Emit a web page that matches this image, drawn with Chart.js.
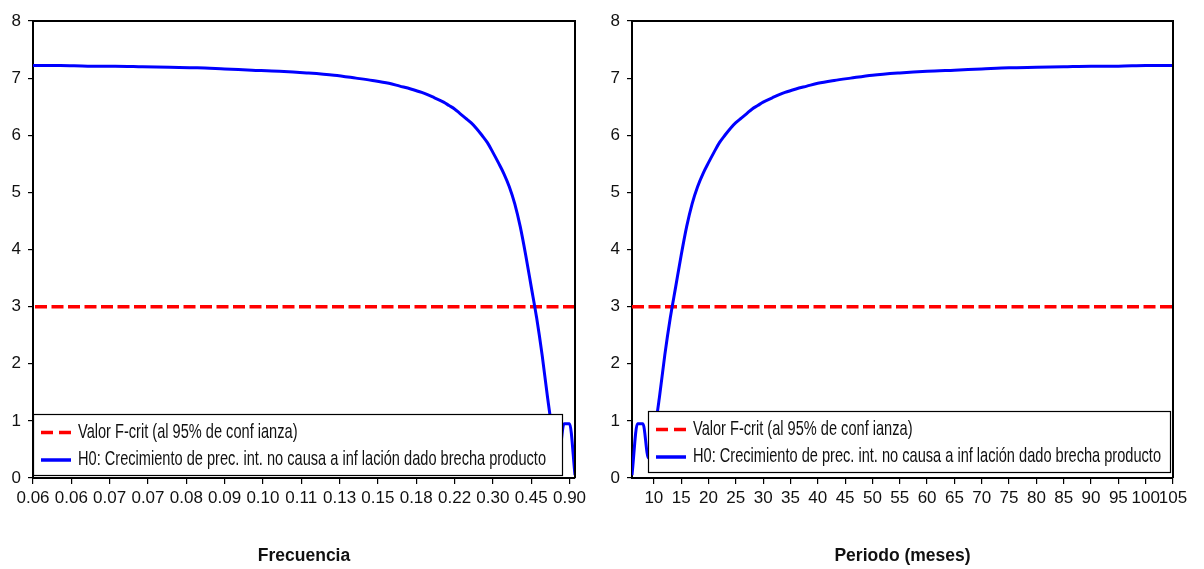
<!DOCTYPE html>
<html>
<head>
<meta charset="utf-8">
<script src="https://cdn.jsdelivr.net/npm/chart.js@4/dist/chart.umd.min.js"></script>
<style>
  html, body { margin: 0; padding: 0; background: #fff; }
  #wrap { position: relative; width: 1204px; height: 569px; overflow: hidden; }
  canvas { position: absolute; top: 0; }
  #left { left: 0; }
  #right { left: 600px; }
</style>
</head>
<body>
<div id="wrap">
  <canvas id="left" width="600" height="569"></canvas>
  <canvas id="right" width="604" height="569"></canvas>
</div>
<script>
// F statistic by period (months)
const periods = [6, 7, 8, 9, 10, 11, 12, 13, 14, 15, 16, 17, 18, 19, 20, 21, 22, 23, 24, 25,
  26, 27, 28, 29, 30, 32, 34, 36, 38, 40, 43, 46, 50, 55, 60, 65, 70, 75, 80, 85, 90, 95, 100, 105];
const fStat = [0.05, 0.95, 0.95, 0.35, 0.75, 1.4, 2.15, 2.8, 3.35, 3.9, 4.4, 4.8, 5.1, 5.33, 5.52, 5.7, 5.87, 6.0, 6.12, 6.22,
  6.3, 6.38, 6.46, 6.52, 6.58, 6.67, 6.75, 6.81, 6.86, 6.91, 6.96, 7.0, 7.05, 7.09, 7.12, 7.14, 7.16, 7.18, 7.19, 7.2, 7.21, 7.21, 7.22, 7.22];

// critical value line
const critPeriods = [6, 105];
const critValues = [3, 3];

// tick labels
const periodTicks = [10, 15, 20, 25, 30, 35, 40, 45, 50, 55, 60, 65, 70, 75, 80, 85, 90, 95, 100, 105];
const freqTickPeriods = [105, 98, 91, 84, 77, 70, 63, 56, 49, 42, 35, 28, 21, 14, 7];
const freqTickLabels = ['0.06', '0.06', '0.07', '0.07', '0.08', '0.09', '0.10', '0.11', '0.13', '0.15', '0.18', '0.22', '0.30', '0.45', '0.90'];

const legendLabels = ['Valor F-crit (al 95% de conf ianza)', 'H0: Crecimiento de prec. int. no causa a inf lación dado brecha producto'];

function hasFont(name) {
    const c = document.createElement('canvas').getContext('2d');
    const s = '0.06 Frecuencia abcxyz';
    c.font = '40px monospace';
    const a = c.measureText(s).width;
    c.font = "40px '" + name + "', monospace";
    return c.measureText(s).width != a;
}
const narrow = hasFont('Liberation Sans Narrow');
const FAMILY = narrow ? "'Liberation Sans Narrow', 'Liberation Sans', sans-serif" : "'Liberation Sans', Arial, sans-serif";
const TICK_SIZE = narrow ? 19 : 17;
const TITLE_SIZE = narrow ? 20 : 17.5;

Chart.defaults.font.family = FAMILY;
Chart.defaults.color = '#111';

const blueData = periods.map((p, i) => ({ x: p, y: fStat[i] }));
const redData = critPeriods.map((p, i) => ({ x: p, y: critValues[i] }));

const framePlugin = {
    id: 'frame',
    afterDatasetsDraw(chart) {
        const { ctx, chartArea: a } = chart;
        ctx.save();
        ctx.strokeStyle = '#000';
        ctx.lineWidth = 2;
        ctx.beginPath();
        ctx.moveTo(a.left, a.top);
        ctx.lineTo(a.right, a.top);
        ctx.lineTo(a.right, a.bottom);
        ctx.stroke();
        ctx.restore();
    }
};

const boxLegendPlugin = {
    id: 'boxLegend',
    afterDraw(chart, args, opts) {
        const ctx = chart.ctx;
        const b = opts.box;
        ctx.save();
        ctx.fillStyle = '#fff';
        ctx.fillRect(b.x, b.y, b.w, b.h);
        ctx.strokeStyle = '#000';
        ctx.lineWidth = 1.2;
        ctx.strokeRect(b.x + 0.5, b.y + 0.5, b.w - 1, b.h - 1);
        ctx.font = '18px ' + FAMILY;
        ctx.textBaseline = 'middle';
        ctx.fillStyle = '#111';
        const sx = 468 / ctx.measureText(legendLabels[1]).width;
        const rows = [b.y + 18.5, b.y + 46];
        const styles = [{ color: '#FF0000', dash: [12, 6] }, { color: '#0000FF', dash: [] }];
        rows.forEach((y, i) => {
            ctx.strokeStyle = styles[i].color;
            ctx.lineWidth = 3.5;
            ctx.setLineDash(styles[i].dash);
            ctx.beginPath();
            ctx.moveTo(b.x + 8, y);
            ctx.lineTo(b.x + 38, y);
            ctx.stroke();
            ctx.save();
            ctx.translate(b.x + 45, y);
            ctx.scale(sx, 1.08);
            ctx.fillText(legendLabels[i], 0, 0);
            ctx.restore();
        });
        ctx.restore();
    }
};

function makeChart(id, side) {
    const isLeft = side == 'left';
    return new Chart(document.getElementById(id), {
        type: 'line',
        data: {
            datasets: [
                {
                    label: legendLabels[0],
                    data: redData,
                    borderColor: '#FF0000',
                    borderWidth: 3.5,
                    borderDash: [12, 4.5],
                    pointRadius: 0,
                    order: 1
                },
                {
                    label: legendLabels[1],
                    data: blueData,
                    borderColor: '#0000FF',
                    borderWidth: 3,
                    pointRadius: 0,
                    cubicInterpolationMode: 'monotone',
                    order: 0
                }
            ]
        },
        options: {
            responsive: false,
            animation: false,
            devicePixelRatio: 1,
            layout: { padding: { left: 0, top: 21, right: isLeft ? 25 : 31, bottom: 0 } },
            plugins: {
                legend: { display: false },
                tooltip: { enabled: false },
                boxLegend: { box: isLeft ? { x: 33, y: 414, w: 530, h: 62 } : { x: 48, y: 411, w: 523, h: 62 } }
            },
            scales: {
                x: {
                    type: 'linear',
                    min: 6,
                    max: 105,
                    reverse: isLeft,
                    afterFit(scale) { scale.height = 91; },
                    afterBuildTicks(scale) {
                        const vals = isLeft ? freqTickPeriods : periodTicks;
                        scale.ticks = vals.map(v => ({ value: v }));
                    },
                    ticks: {
                        autoSkip: false,
                        maxRotation: 0,
                        minRotation: 0,
                        padding: 4,
                        color: '#111',
                        font: { size: TICK_SIZE },
                        callback(value) {
                            if (isLeft) return freqTickLabels[freqTickPeriods.indexOf(value)];
                            return String(value);
                        }
                    },
                    grid: { drawOnChartArea: false, drawTicks: true, tickLength: 6, color: '#000', lineWidth: 1.2 },
                    border: { display: true, color: '#000', width: 2 },
                    title: {
                        display: true,
                        text: isLeft ? 'Frecuencia' : 'Periodo (meses)',
                        font: { size: TITLE_SIZE, weight: 'bold' },
                        color: '#111',
                        padding: { top: 0, bottom: 2 }
                    }
                },
                y: {
                    min: 0,
                    max: 8,
                    afterFit(scale) { scale.width = isLeft ? 33 : 32; },
                    ticks: { stepSize: 1, padding: 7, color: '#111', font: { size: TICK_SIZE } },
                    grid: { drawOnChartArea: false, drawTicks: true, tickLength: 5, color: '#000', lineWidth: 1.2 },
                    border: { display: true, color: '#000', width: 2 }
                }
            }
        },
        plugins: [framePlugin, boxLegendPlugin]
    });
}

makeChart('left', 'left');
makeChart('right', 'right');
</script>
</body>
</html>
